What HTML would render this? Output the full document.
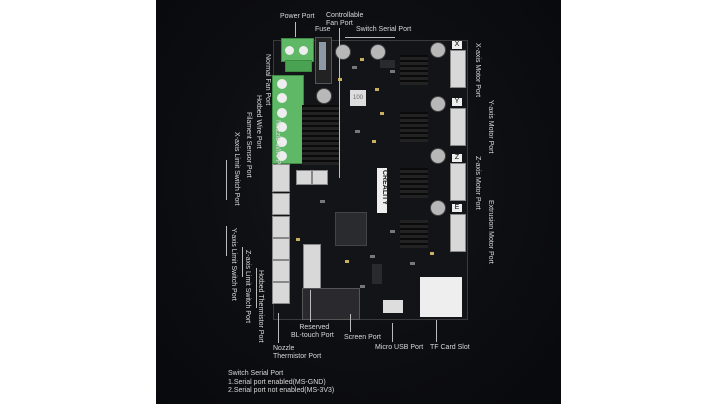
<!DOCTYPE html>
<html><head><meta charset="utf-8"><style>
body{margin:0;width:719px;height:404px;background:#fff;position:relative;overflow:hidden;font-family:"Liberation Sans",sans-serif}
#bg{position:absolute;left:156px;top:0;width:405px;height:404px;background:radial-gradient(ellipse at 50% 45%,#16171b 0%,#0d0e12 55%,#08090c 100%)}
.a{position:absolute}
.t{position:absolute;color:#d8d8d8;font-size:7px;line-height:8px;white-space:nowrap}
.v{position:absolute;color:#d8d8d8;font-size:7px;white-space:nowrap;transform-origin:0 0;transform:rotate(90deg)}
.l{position:absolute;background:#bbb}
.g{background:#5fb866;border:1px solid #3c8a44}
.w{background:#d8d8d8;border:1px solid #888}
.sc{position:absolute;width:6px;height:6px;border-radius:50%;background:#eee}
.cap{position:absolute;width:14px;height:14px;border-radius:50%;background:#b8b8b8;border:1px solid #444}
.hs{position:absolute;background:repeating-linear-gradient(0deg,#222 0 3px,#0a0a0a 3px 5px)}
.d{position:absolute;width:4px;height:3px;background:#c8b060}
.s{position:absolute;width:5px;height:3px;background:#777}
</style></head><body>
<div id="bg"></div>
<div class="a" style="left:273px;top:40px;width:193px;height:278px;background:#131417;border:1px solid #3a3a3a"></div>
<div class="a g" style="left:281px;top:38px;width:31px;height:22px"></div>
<div class="sc" style="left:285px;top:46px;width:9px;height:9px"></div>
<div class="sc" style="left:299px;top:46px;width:9px;height:9px"></div>
<div class="a g" style="left:285px;top:60px;width:25px;height:10px;background:#4aa352"></div>
<div class="a" style="left:315px;top:37px;width:15px;height:45px;background:#222;border:1px solid #555"></div>
<div class="a" style="left:319px;top:42px;width:7px;height:28px;background:#bcd;opacity:.7"></div>
<div class="a g" style="left:272px;top:75px;width:30px;height:87px"></div>
<div class="sc" style="left:277px;top:79px;width:10px;height:10px"></div>
<div class="sc" style="left:277px;top:93px;width:10px;height:10px"></div>
<div class="sc" style="left:277px;top:108px;width:10px;height:10px"></div>
<div class="sc" style="left:277px;top:122px;width:10px;height:10px"></div>
<div class="sc" style="left:277px;top:137px;width:10px;height:10px"></div>
<div class="sc" style="left:277px;top:151px;width:10px;height:10px"></div>
<div class="hs" style="left:302px;top:105px;width:38px;height:60px"></div>
<div class="hs" style="left:400px;top:55px;width:28px;height:30px"></div>
<div class="hs" style="left:400px;top:112px;width:28px;height:30px"></div>
<div class="hs" style="left:400px;top:168px;width:28px;height:30px"></div>
<div class="hs" style="left:400px;top:220px;width:28px;height:28px"></div>
<div class="cap" style="left:335px;top:44px"></div>
<div class="cap" style="left:370px;top:44px"></div>
<div class="cap" style="left:430px;top:42px"></div>
<div class="cap" style="left:316px;top:88px"></div>
<div class="cap" style="left:430px;top:96px"></div>
<div class="cap" style="left:430px;top:148px"></div>
<div class="cap" style="left:430px;top:200px"></div>
<div class="a" style="left:350px;top:90px;width:16px;height:16px;background:#ddd;font-size:6px;color:#666;text-align:center;line-height:16px">100</div>
<div class="d" style="left:360px;top:58px"></div><div class="d" style="left:338px;top:78px"></div>
<div class="d" style="left:375px;top:88px"></div><div class="d" style="left:380px;top:112px"></div>
<div class="d" style="left:372px;top:140px"></div><div class="d" style="left:345px;top:260px"></div>
<div class="d" style="left:296px;top:238px"></div><div class="d" style="left:430px;top:252px"></div>
<div class="s" style="left:352px;top:66px"></div><div class="s" style="left:390px;top:70px"></div>
<div class="s" style="left:355px;top:130px"></div><div class="s" style="left:390px;top:230px"></div>
<div class="s" style="left:370px;top:255px"></div><div class="s" style="left:410px;top:262px"></div>
<div class="s" style="left:320px;top:200px"></div><div class="s" style="left:360px;top:285px"></div>
<div class="a" style="left:372px;top:264px;width:10px;height:20px;background:#2a2a2e"></div>
<div class="a" style="left:380px;top:60px;width:15px;height:8px;background:#2a2a2e"></div>
<div class="a w" style="left:450px;top:50px;width:14px;height:36px"></div>
<div class="a w" style="left:450px;top:108px;width:14px;height:36px"></div>
<div class="a w" style="left:450px;top:163px;width:14px;height:36px"></div>
<div class="a w" style="left:450px;top:214px;width:14px;height:36px"></div>
<div class="a" style="left:452px;top:41px;width:10px;height:8px;background:#eee;font-size:7px;text-align:center;line-height:8px">X</div>
<div class="a" style="left:452px;top:98px;width:10px;height:8px;background:#eee;font-size:7px;text-align:center;line-height:8px">Y</div>
<div class="a" style="left:452px;top:154px;width:10px;height:8px;background:#eee;font-size:7px;text-align:center;line-height:8px">Z</div>
<div class="a" style="left:452px;top:204px;width:10px;height:8px;background:#eee;font-size:7px;text-align:center;line-height:8px">E</div>
<div class="a w" style="left:272px;top:164px;width:16px;height:26px"></div>
<div class="a w" style="left:272px;top:193px;width:16px;height:20px"></div>
<div class="a w" style="left:272px;top:216px;width:16px;height:20px"></div>
<div class="a w" style="left:272px;top:238px;width:16px;height:20px"></div>
<div class="a w" style="left:272px;top:260px;width:16px;height:20px"></div>
<div class="a w" style="left:272px;top:282px;width:16px;height:20px"></div>
<div class="a w" style="left:296px;top:170px;width:14px;height:13px"></div>
<div class="a w" style="left:312px;top:170px;width:14px;height:13px"></div>
<div class="a" style="left:377px;top:168px;width:10px;height:45px;background:#eee"></div>
<div class="v" style="left:388px;top:170px;color:#222;font-size:7px;font-weight:bold">CREALITY</div>
<div class="a" style="left:335px;top:212px;width:30px;height:32px;background:#2a2b2e;border:1px solid #444"></div>
<div class="a w" style="left:303px;top:244px;width:16px;height:44px"></div>
<div class="a" style="left:302px;top:288px;width:56px;height:30px;background:#2a2a2e;border:1px solid #555"></div>
<div class="a" style="left:383px;top:300px;width:20px;height:13px;background:#ddd"></div>
<div class="a" style="left:420px;top:277px;width:42px;height:40px;background:#eee"></div>
<div class="t" style="left:280px;top:13px">Power Port</div>
<div class="l" style="left:295px;top:22px;width:1px;height:15px"></div>
<div class="t" style="left:326px;top:12px">Controllable<br>Fan Port</div>
<div class="l" style="left:339px;top:28px;width:1px;height:150px"></div>
<div class="t" style="left:315px;top:26px">Fuse</div>
<div class="t" style="left:356px;top:26px">Switch Serial Port</div>
<div class="l" style="left:345px;top:37px;width:50px;height:1px"></div>
<div class="v" style="left:481px;top:43px">X-axis Motor Port</div>
<div class="v" style="left:494px;top:100px">Y-axis Motor Port</div>
<div class="v" style="left:481px;top:156px">Z-axis Motor Port</div>
<div class="v" style="left:494px;top:200px">Extrusion Motor Port</div>
<div class="v" style="left:271px;top:54px">Normal Fan Port</div>
<div class="v" style="left:262px;top:95px">Hotbed Wire Port</div>
<div class="v" style="left:281px;top:120px">Nozzle Wire Port</div>
<div class="v" style="left:252px;top:112px">Filament Sensor Port</div>
<div class="v" style="left:240px;top:132px">X-axis Limit Switch Port</div>
<div class="v" style="left:237px;top:228px">Y-axis Limit Switch Port</div>
<div class="v" style="left:251px;top:250px">Z-axis Limit Switch Port</div>
<div class="v" style="left:264px;top:270px">Hotbed Thermistor Port</div>
<div class="l" style="left:226px;top:160px;width:1px;height:40px"></div>
<div class="l" style="left:226px;top:226px;width:1px;height:30px"></div>
<div class="l" style="left:242px;top:247px;width:1px;height:30px"></div>
<div class="l" style="left:256px;top:268px;width:1px;height:40px"></div>
<div class="t" style="left:273px;top:345px">Nozzle<br>Thermistor Port</div>
<div class="l" style="left:278px;top:313px;width:1px;height:30px"></div>
<div class="t" style="left:291px;top:324px;text-align:center">&nbsp;&nbsp;Reserved<br>BL-touch Port</div>
<div class="l" style="left:310px;top:290px;width:1px;height:32px"></div>
<div class="t" style="left:344px;top:334px">Screen Port</div>
<div class="l" style="left:350px;top:314px;width:1px;height:18px"></div>
<div class="t" style="left:375px;top:344px">Micro USB Port</div>
<div class="l" style="left:392px;top:323px;width:1px;height:19px"></div>
<div class="t" style="left:430px;top:344px">TF Card Slot</div>
<div class="l" style="left:436px;top:320px;width:1px;height:22px"></div>
<div class="t" style="left:228px;top:370px;line-height:8.5px">Switch Serial Port<br>1.Serial port enabled(MS-GND)<br>2.Serial port not enabled(MS-3V3)</div>
</body></html>
